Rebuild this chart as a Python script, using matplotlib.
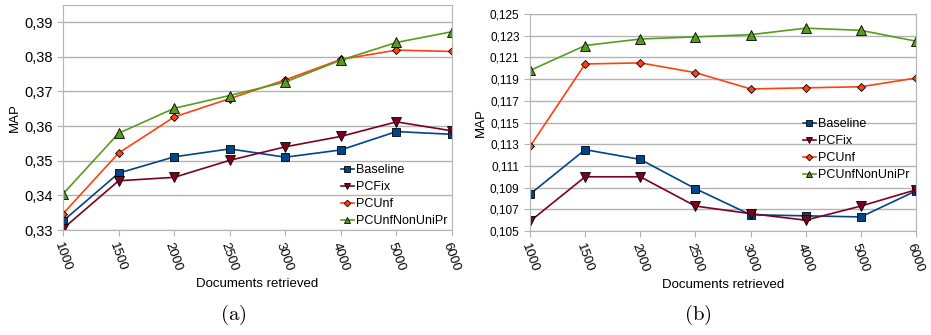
import matplotlib.pyplot as plt
from matplotlib.ticker import FuncFormatter

# Documents retrieved (categorical x positions)
docs = ["1000", "1500", "2000", "2500", "3000", "4000", "5000", "6000"]

# (a) MAP values
a_baseline = [0.3326, 0.3464, 0.3511, 0.3534, 0.3510, 0.3531, 0.3584, 0.3576]
a_pcfix = [0.3304, 0.3442, 0.3452, 0.3501, 0.3540, 0.3570, 0.3612, 0.3586]
a_pcunf = [0.3347, 0.3522, 0.3626, 0.3679, 0.3733, 0.3792, 0.3819, 0.3815]
a_pcunf_nonunipr = [0.3404, 0.3579, 0.3651, 0.3688, 0.3727, 0.3790, 0.3841, 0.3872]
a_yticks = [0.33, 0.34, 0.35, 0.36, 0.37, 0.38, 0.39]

# (b) MAP values
b_baseline = [0.1084, 0.1125, 0.1116, 0.1089, 0.1065, 0.1064, 0.1063, 0.1087]
b_pcfix = [0.1059, 0.1100, 0.1100, 0.1073, 0.1066, 0.1060, 0.1073, 0.1088]
b_pcunf = [0.1128, 0.1204, 0.1205, 0.1196, 0.1181, 0.1182, 0.1183, 0.1191]
b_pcunf_nonunipr = [0.1198, 0.1221, 0.1227, 0.1229, 0.1231, 0.1237, 0.1235, 0.1225]
b_yticks = [0.105, 0.107, 0.109, 0.111, 0.113, 0.115, 0.117, 0.119, 0.121,
            0.123, 0.125]

names = ["Baseline", "PCFix", "PCUnf", "PCUnfNonUniPr"]
colors = ["#004586", "#7e0021", "#ff420e", "#579d1c"]
markers = ["s", "v", "D", "^"]
msizes = [6, 6.5, 4.5, 6.5]

plt.rcParams["font.family"] = ["Liberation Sans", "DejaVu Sans"]
plt.rcParams["mathtext.fontset"] = "cm"

fig = plt.figure(figsize=(9.31, 3.35), dpi=100)
ax1 = fig.add_axes([0.0677, 0.3134, 0.4178, 0.6716])
ax2 = fig.add_axes([0.5693, 0.3104, 0.4146, 0.6476])


def draw(ax, series, ylim, yticks, nd, tsize):
    x = range(len(docs))
    for vals, name, c, m, ms in zip(series, names, colors, markers, msizes):
        ax.plot(x, vals, color=c, marker=m, markersize=ms, markerfacecolor=c,
                markeredgecolor="black", markeredgewidth=0.6, linewidth=1.2,
                label=name)
    ax.set_xlim(0, len(docs) - 1)
    ax.set_ylim(*ylim)
    ax.set_yticks(yticks)
    ax.yaxis.set_major_formatter(
        FuncFormatter(lambda v, p: f"{v:.{nd}f}".replace(".", ",")))
    ax.set_xticks(list(x))
    ax.set_xticklabels(docs, rotation=-70, ha="left", va="top",
                       rotation_mode="anchor", fontsize=9.5)
    ax.tick_params(axis="y", labelsize=tsize, length=4, color="#b3b3b3")
    ax.tick_params(axis="x", length=4, color="#b3b3b3")
    ax.grid(axis="y", color="#b3b3b3", linewidth=1)
    ax.set_axisbelow(True)
    for s in ax.spines.values():
        s.set_color("#b3b3b3")
    ax.set_xlabel("Documents retrieved", fontsize=9.5, labelpad=4)
    ax.set_ylabel("MAP", fontsize=9.5, labelpad=2)


draw(ax1, [a_baseline, a_pcfix, a_pcunf, a_pcunf_nonunipr],
     (0.33, 0.3949), a_yticks, 2, 10.5)
draw(ax2, [b_baseline, b_pcfix, b_pcunf, b_pcunf_nonunipr],
     (0.105, 0.125), b_yticks, 3, 8.5)

leg_kw = dict(frameon=False, fontsize=9, handlelength=1.0, handletextpad=0.15,
              labelspacing=0.4, markerscale=0.75, borderaxespad=0.0)
ax1.legend(loc="lower right", bbox_to_anchor=(1.0, -0.01), **leg_kw)
ax2.legend(loc="center right", bbox_to_anchor=(0.995, 0.375), **leg_kw)

fig.text(0.2503, 0.06, r"$\mathrm{(a)}$", ha="center", va="center", fontsize=15)
fig.text(0.7497, 0.06, r"$\mathrm{(b)}$", ha="center", va="center", fontsize=15)

fig.savefig("out.png", dpi=100)
